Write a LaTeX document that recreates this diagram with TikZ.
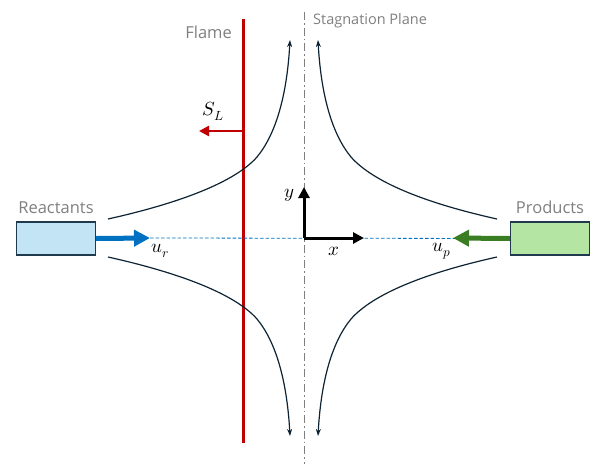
\documentclass[tikz,border=0pt]{standalone}
\usepackage{amsmath}
\usepackage{fontspec}
\setmainfont{Open Sans}
\usepackage{unicode-math}
\setmathfont{Latin Modern Math}
\usepackage{xcolor}
\usetikzlibrary{arrows.meta,positioning,calc}
\definecolor{labelgray}{HTML}{7F7F7F}
\definecolor{flamered}{HTML}{C00000}
\definecolor{reacblue}{HTML}{0070C0}
\definecolor{reacfill}{HTML}{C3E4F4}
\definecolor{prodgreen}{HTML}{3A7D22}
\definecolor{prodfill}{HTML}{B4E5A2}
\definecolor{boxedge}{HTML}{1F3A4D}
\definecolor{streamcol}{HTML}{0D2333}
\tikzset{
  tank/.style={draw=boxedge, line width=1.2pt, minimum width=79pt, minimum height=33pt, inner sep=0pt},
  caption/.style={text=labelgray, font=\fontsize{16.5}{18}\selectfont, inner sep=0pt},
  feed/.style={-{Triangle[length=16pt,width=16pt]}, line width=5pt},
  stream/.style={-{Stealth[length=7pt,width=5pt]}, draw=streamcol, line width=1.2pt},
  axis/.style={-{Triangle[length=11pt,width=11pt]}, line width=3pt},
  mlabel/.style={font=\fontsize{19}{21}\selectfont, inner sep=0pt}
}
\begin{document}
\begin{tikzpicture}[x=1pt, y=-1pt]
  \useasboundingbox (0,0) rectangle (592,464);
  % planes
  \coordinate (o) at (304,238);
  \coordinate (sptop) at (304,12);
  \coordinate (spbot) at (304,464);
  \draw[labelgray, line width=1pt, dash pattern=on 8pt off 3pt on 1.5pt off 3pt] (sptop) -- (spbot);
  \node[caption, anchor=west, font=\fontsize{14.5}{16}\selectfont] (sp) at (313,21) {Stagnation Plane};
  \coordinate (fltop) at (243,19);
  \coordinate (flbot) at (243,443);
  \draw[flamered, line width=3pt] (fltop) -- (flbot);
  \node[caption, anchor=east] (fl) at (232,32) {Flame};
  % flame speed
  \coordinate (slstart) at (243,131);
  \coordinate (slend) at (199,131);
  \draw[flamered, -{Triangle[length=10pt,width=10pt]}, line width=2.4pt] (slstart) -- (slend);
  \node[mlabel] (sl) at (213,111) {$S_L$};
  % streamlines
  \draw[stream] (108,219) .. controls (180,203) and (235,182) .. (257,157)
                          .. controls (276,134) and (287,95) .. (290,40);
  \draw[stream] (108,257) .. controls (180,273) and (235,294) .. (257,319)
                          .. controls (276,342) and (287,381) .. (290,436);
  \draw[stream] (497,219) .. controls (425,203) and (373,182) .. (351,157)
                          .. controls (332,134) and (321,95) .. (318,40);
  \draw[stream] (497,257) .. controls (425,273) and (373,294) .. (351,319)
                          .. controls (332,342) and (321,381) .. (318,436);
  % inlets
  \node[tank, fill=reacfill] (reac) at (56,238.5) {};
  \node[caption, above=8pt of reac] (reaclbl) {Reactants};
  \node[tank, fill=prodfill] (prod) at (550,238.5) {};
  \node[caption, above=8pt of prod] (prodlbl) {Products};
  \coordinate (ur) at (150,238);
  \coordinate (up) at (453,238);
  \draw[reacblue, line width=0.8pt, dash pattern=on 3.5pt off 2pt] (ur) -- (prod.west);
  \draw[feed, reacblue] (reac.east) -- (ur);
  \draw[feed, prodgreen] (prod.west) -- (up);
  \node[mlabel] (urlbl) at (160,251) {$u_r$};
  \node[mlabel] (uplbl) at (442,251) {$u_p$};
  % axes
  \draw[axis] (o) -- (364,238) coordinate (xtip);
  \draw[axis] (o) -- (304,187) coordinate (ytip);
  \node[mlabel] (xlbl) at (334,251) {$x$};
  \node[mlabel] (ylbl) at (289,195) {$y$};
\end{tikzpicture}
\end{document}
